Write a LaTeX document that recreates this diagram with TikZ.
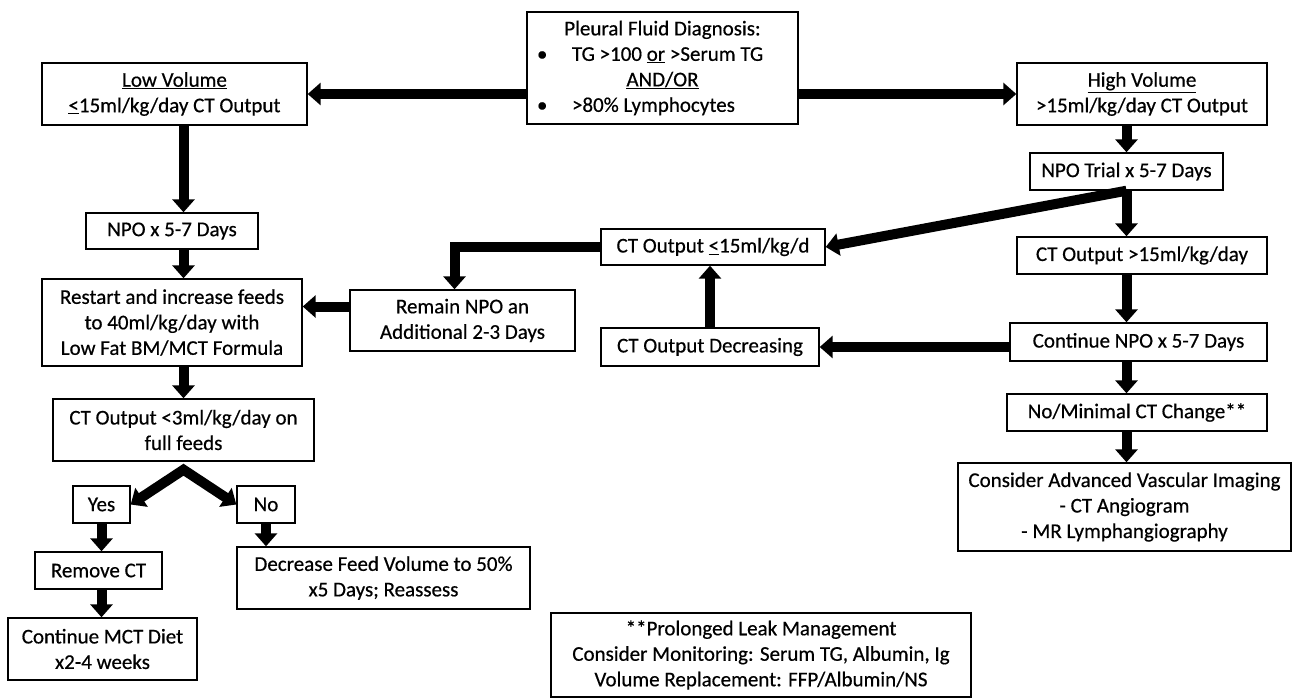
\documentclass[tikz,border=0pt]{standalone}
\usepackage{fontspec}
\setmainfont{Carlito}
\newfontfamily\boxfont{Carlito}[BoldFont=Carlito, BoldFeatures={FakeBold=0.5}]
\usetikzlibrary{arrows.meta}

\tikzstyle{box}=[draw, line width=1.4pt, fill=white, align=center, inner sep=0pt, font=\fontsize{21}{25.5}\boxfont\bfseries]
\tikzstyle{thickarrow}=[line width=10pt, line join=miter, -{Triangle[width=22pt,length=13pt]}]

\begin{document}
\begin{tikzpicture}[x=1pt, y=-1pt]
			\fill[white] (0,0) rectangle (1293,697);
			\useasboundingbox (0,0) rectangle (1293,697);
			%Top row
			\node[box, minimum width=271pt, minimum height=112pt] (diag) at (662.5,68) {Pleural Fluid Diagnosis:\\
				\makebox[271pt][l]{\hspace{10pt}\makebox[35pt][l]{•}TG >100 \underline{or} >Serum TG}\\
				\underline{AND/OR}\\
				\makebox[271pt][l]{\hspace{10pt}\makebox[35pt][l]{•}>80\% Lymphocytes}};
			\node[box, minimum width=265pt, minimum height=62pt] (lowvol) at (174.5,94) {\underline{Low Volume}\\\underline{<}15ml/kg/day CT Output};
			\node[box, minimum width=250pt, minimum height=62pt] (highvol) at (1142,94) {\underline{High Volume}\\>15ml/kg/day CT Output};
			%Low volume branch
			\node[box, minimum width=172pt, minimum height=36pt] (npolow) at (172,231) {NPO x 5-7 Days};
			\node[box, minimum width=260pt, minimum height=87pt] (restart) at (172,322.5) {Restart and increase feeds\\to 40ml/kg/day with\\Low Fat BM/MCT Formula};
			\node[box, minimum width=261pt, minimum height=62pt] (ctlow) at (183.5,430) {CT Output <3ml/kg/day on\\full feeds};
			\node[box, minimum width=57pt, minimum height=37pt] (yes) at (101.5,504.5) {Yes};
			\node[box, minimum width=58pt, minimum height=37pt] (no) at (266,504.5) {No};
			\node[box, minimum width=127pt, minimum height=37pt] (remove) at (98.5,570.5) {Remove CT};
			\node[box, minimum width=293pt, minimum height=62pt] (decrease) at (383.5,578) {Decrease Feed Volume to 50\%\\x5 Days; Reassess};
			\node[box, minimum width=189pt, minimum height=62pt] (mctdiet) at (102.5,649) {Continue MCT Diet\\x2-4 weeks};
			%Middle column
			\node[box, minimum width=225pt, minimum height=61pt] (remain) at (462.5,320.5) {Remain NPO an\\Additional 2-3 Days};
			\node[box, minimum width=224pt, minimum height=36pt] (ctle) at (713,247) {CT Output \underline{<}15ml/kg/d};
			\node[box, minimum width=218pt, minimum height=38pt] (ctdec) at (710,347) {CT Output Decreasing};
			%High volume branch
			\node[box, minimum width=193pt, minimum height=37pt] (npotrial) at (1126.5,171.5) {NPO Trial x 5-7 Days};
			\node[box, minimum width=250pt, minimum height=37pt] (ctgt) at (1142,255.5) {CT Output >15ml/kg/day};
			\node[box, minimum width=257pt, minimum height=38pt] (contnpo) at (1138.5,342) {Continue NPO x 5-7 Days};
			\node[box, minimum width=260pt, minimum height=37pt] (nomin) at (1137,412.5) {No/Minimal CT Change**};
			\node[box, minimum width=333pt, minimum height=88pt] (advimg) at (1124.5,507) {Consider Advanced Vascular Imaging\\- CT Angiogram\\- MR Lymphangiography};
			\node[box, minimum width=420pt, minimum height=84pt] (leak) at (761,655) {**Prolonged Leak Management\\Consider Monitoring: Serum TG, Albumin, Ig\\Volume Replacement: FFP/Albumin/NS};
			%Arrows
			\draw[thickarrow] (diag.west |- lowvol) -- (lowvol.east);
			\draw[thickarrow] (diag.east |- highvol) -- (highvol.west);
			\foreach \from/\to in {lowvol/npolow, npolow/restart, restart/ctlow}
			\draw[thickarrow] (\from.south -| ctlow) -- (\to.north -| ctlow);
			\foreach \from/\to in {highvol/npotrial, npotrial/ctgt, ctgt/contnpo, contnpo/nomin, nomin/advimg}
			\draw[thickarrow] (\from.south -| npotrial) -- (\to.north -| npotrial);
			\draw[thickarrow] (npotrial.south) -- (ctle.east);
			\draw[thickarrow] (contnpo.west |- ctdec) -- (ctdec.east);
			\draw[thickarrow] (ctdec.north) -- (ctdec.north |- ctle.south);
			\draw[thickarrow] (ctle.west) -| ([xshift=-8pt]remain.north);
			\draw[thickarrow] ([yshift=14pt]remain.west) -- ([yshift=14pt]remain.west -| restart.east);
			\coordinate (split) at ([yshift=-8pt]ctlow.south);
			\draw[thickarrow, {Triangle[width=22pt,length=13pt]}-{Triangle[width=22pt,length=13pt]}] (yes.east) -- (split) -- (no.west);
			\draw[thickarrow] (yes.south) -- (yes.south |- remove.north);
			\draw[thickarrow] (remove.south -| yes) -- (mctdiet.north -| yes);
			\draw[thickarrow] (no.south) -- (no.south |- decrease.north);
\end{tikzpicture}
\end{document}
